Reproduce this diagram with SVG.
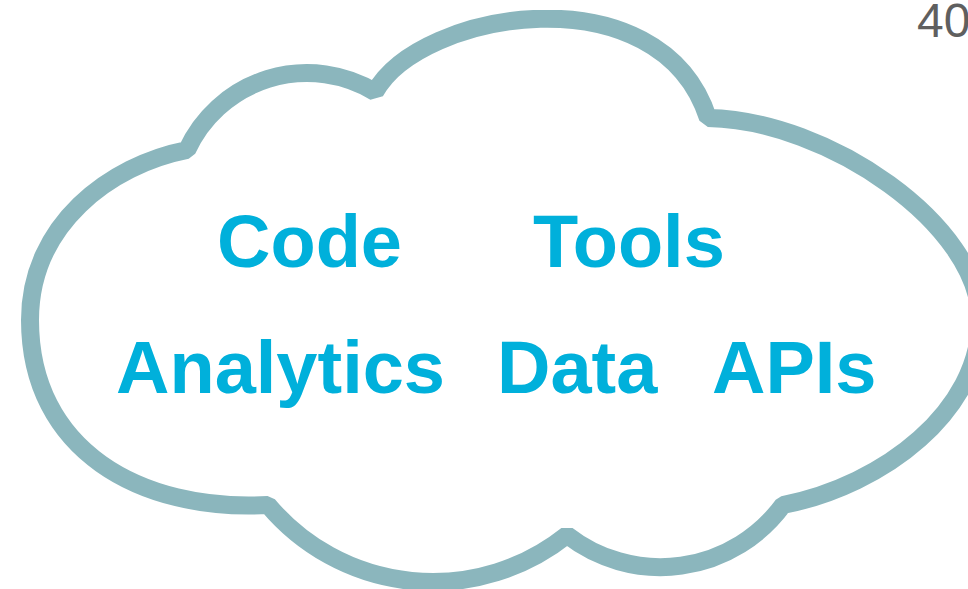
<svg xmlns="http://www.w3.org/2000/svg" width="968" height="589" viewBox="0 0 968 589">
  <style>
    .cloud { fill: #ffffff; stroke: #8bb6bd; stroke-width: 18; stroke-linejoin: bevel; }
    .word { font-family: "Liberation Sans", Arial, sans-serif; font-weight: bold; font-size: 74px; fill: #00b0db; }
    .page { font-family: "Liberation Sans", Arial, sans-serif; font-size: 48px; fill: #5f5f5f; }
  </style>
  <defs>
    <clipPath id="cloudClip">
      <rect x="0" y="10" width="968" height="579"/>
    </clipPath>
  </defs>
  <rect x="0" y="0" width="968" height="589" fill="#ffffff"/>

  <!-- cloud outline: lobes joined at sharp cusps -->
  <g id="cloud" clip-path="url(#cloudClip)">
    <path class="cloud" d="M 187,150
      A 132 132 0 0 1 375 92
      C 420,10 660,-30 708,118
      C 828,120 980,225 980,320
      C 980,410 885,485 783,505
      A 152 152 0 0 1 567 535
      A 215 215 0 0 1 268 505
      C 140,512 30,450 30,320
      C 30,225 110,165 187,150 Z"/>
  </g>

  <!-- labels inside the cloud -->
  <g id="code"><text class="word" x="217" y="267">Code</text></g>
  <g id="tools"><text class="word" x="533" y="267">Tools</text></g>
  <g id="analytics"><text class="word" x="116" y="393">Analytics</text></g>
  <g id="data"><text class="word" x="497" y="393">Data</text></g>
  <g id="apis"><text class="word" x="712" y="393">APIs</text></g>

  <!-- page number, running off the right edge -->
  <text class="page" x="917" y="37">40</text>
</svg>
